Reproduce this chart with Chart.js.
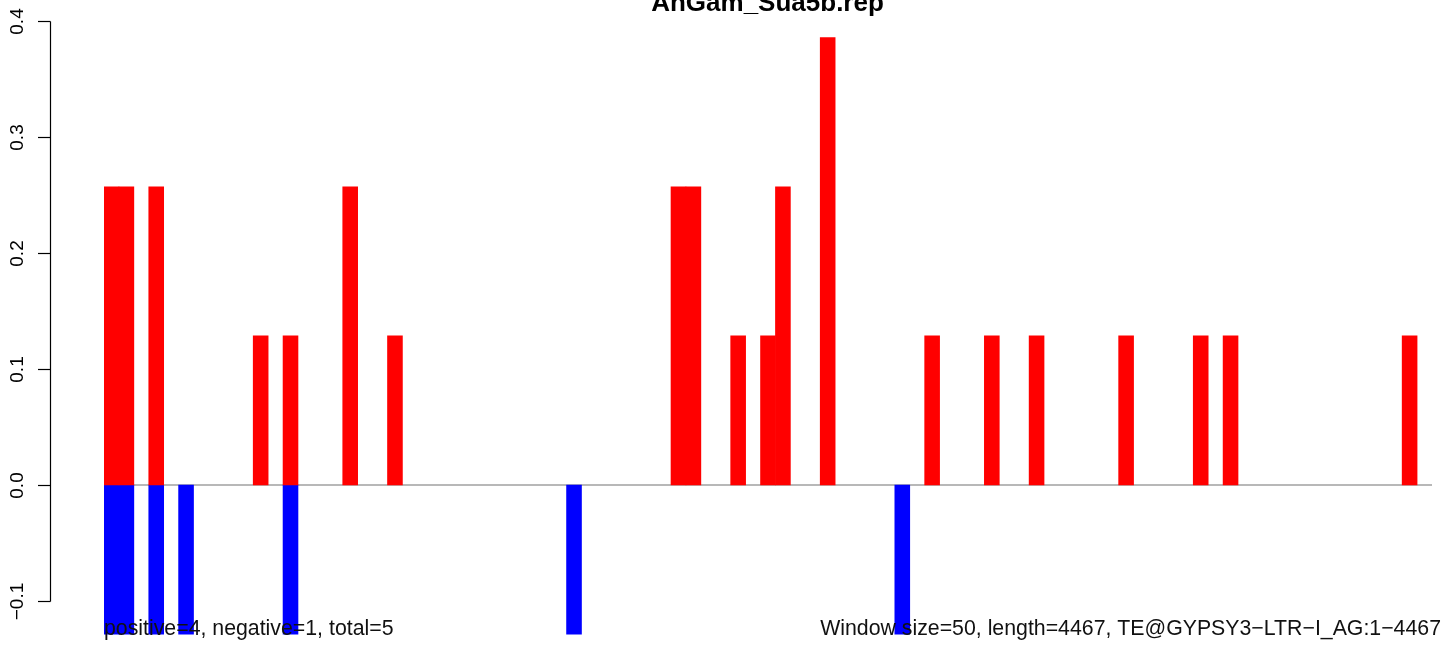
<!DOCTYPE html>
<html>
<head>
<meta charset="utf-8">
<script src="https://cdn.jsdelivr.net/npm/chart.js@4/dist/chart.umd.min.js"></script>
<style>
  html, body { margin: 0; padding: 0; background: #ffffff; }
  #wrap { width: 1444px; height: 646px; position: relative; }
</style>
</head>
<body>
<div id="wrap"><canvas id="c" width="1444" height="646"></canvas></div>
<script>
// ---- data ----
const chartTitle = "AnGam_Sua5b.rep";
const windowSize = 50;
const seqLength = 4467;
const windowCount = 89;
const windowStarts = Array.from({length: windowCount}, (_, i) => i * windowSize + 1);

const positiveValues = [
  0.2571, 0.2571, 0, 0.2571, 0, 0, 0, 0, 0, 0,
  0.1286, 0, 0.1286, 0, 0, 0, 0.2571, 0, 0, 0.1286,
  0, 0, 0, 0, 0, 0, 0, 0, 0, 0,
  0, 0, 0, 0, 0, 0, 0, 0, 0.2571, 0.2571,
  0, 0, 0.1286, 0, 0.1286, 0.2571, 0, 0, 0.3857, 0,
  0, 0, 0, 0, 0, 0.1286, 0, 0, 0, 0.1286,
  0, 0, 0.1286, 0, 0, 0, 0, 0, 0.1286, 0,
  0, 0, 0, 0.1286, 0, 0.1286, 0, 0, 0, 0,
  0, 0, 0, 0, 0, 0, 0, 0.1286, 0
];
const negativeValues = [
  -0.1286, -0.1286, 0, -0.1286, 0, -0.1286, 0, 0, 0, 0,
  0, 0, -0.1286, 0, 0, 0, 0, 0, 0, 0,
  0, 0, 0, 0, 0, 0, 0, 0, 0, 0,
  0, -0.1286, 0, 0, 0, 0, 0, 0, 0, 0,
  0, 0, 0, 0, 0, 0, 0, 0, 0, 0,
  0, 0, 0, -0.1286, 0, 0, 0, 0, 0, 0,
  0, 0, 0, 0, 0, 0, 0, 0, 0, 0,
  0, 0, 0, 0, 0, 0, 0, 0, 0, 0,
  0, 0, 0, 0, 0, 0, 0, 0, 0
];
const yTickValues = [0.4, 0.3, 0.2, 0.1, 0.0, -0.1];
const yTickLabels = ["0.4", "0.3", "0.2", "0.1", "0.0", "\u22120.1"];
const footLeft = "positive=4, negative=1, total=5";
const footRight = "Window size=50, length=4467, TE@GYPSY3\u2212LTR\u2212I_AG:1\u22124467";

const FONT = '"Liberation Sans", Arial, Helvetica, sans-serif';

const decor = {
  id: 'decor',
  beforeDatasetsDraw(chart) {
    const ctx = chart.ctx, y = chart.scales.y, a = chart.chartArea;
    const y0 = y.getPixelForValue(0);
    ctx.save();
    ctx.strokeStyle = '#a0a0a0';
    ctx.lineWidth = 1.3;
    ctx.beginPath();
    ctx.moveTo(a.left, y0);
    ctx.lineTo(a.right, y0);
    ctx.stroke();
    ctx.restore();
  },
  afterDraw(chart) {
    const ctx = chart.ctx, y = chart.scales.y;
    ctx.save();
    // y axis
    const axX = 50.5;
    ctx.strokeStyle = '#000';
    ctx.lineWidth = 1.2;
    ctx.beginPath();
    ctx.moveTo(axX, Math.round(y.getPixelForValue(yTickValues[0])) + 0.5);
    ctx.lineTo(axX, Math.round(y.getPixelForValue(yTickValues[yTickValues.length - 1])) + 0.5);
    ctx.stroke();
    ctx.fillStyle = '#000';
    ctx.font = '19px ' + FONT;
    ctx.textAlign = 'center';
    ctx.textBaseline = 'alphabetic';
    yTickValues.forEach((v, i) => {
      const py = Math.round(y.getPixelForValue(v)) + 0.5;
      ctx.beginPath();
      ctx.moveTo(38, py);
      ctx.lineTo(axX, py);
      ctx.stroke();
      ctx.save();
      ctx.translate(23, py);
      ctx.rotate(-Math.PI / 2);
      ctx.fillText(yTickLabels[i], 0, 0);
      ctx.restore();
    });
    // title
    ctx.font = 'bold 26px ' + FONT;
    ctx.textAlign = 'center';
    ctx.fillText(chartTitle, 767.5, 11);
    // footers
    ctx.font = '21.3px ' + FONT;
    ctx.fillStyle = '#111';
    ctx.textAlign = 'left';
    ctx.fillText(footLeft, 104, 635);
    ctx.textAlign = 'right';
    ctx.fillText(footRight, 1441, 635);
    ctx.restore();
  }
};

const skipZero = arr => arr.map(v => (v === 0 ? null : v));

new Chart(document.getElementById('c'), {
  type: 'bar',
  data: {
    labels: windowStarts,
    datasets: [
      { label: 'positive', data: skipZero(positiveValues), backgroundColor: '#ff0000', borderWidth: 0 },
      { label: 'negative', data: skipZero(negativeValues), backgroundColor: '#0000ff', borderWidth: 0 }
    ]
  },
  options: {
    responsive: false,
    devicePixelRatio: 1,
    animation: false,
    layout: { padding: { left: 104, right: 12, top: 9.4, bottom: 4.4 } },
    datasets: { bar: { barPercentage: 1, categoryPercentage: 1 } },
    scales: {
      x: { display: false, stacked: true, offset: true, grid: { display: false } },
      y: { display: false, stacked: true, min: -0.135, max: 0.41, grid: { display: false } }
    },
    plugins: { legend: { display: false }, tooltip: { enabled: false }, title: { display: false } }
  },
  plugins: [decor]
});
</script>
</body>
</html>
